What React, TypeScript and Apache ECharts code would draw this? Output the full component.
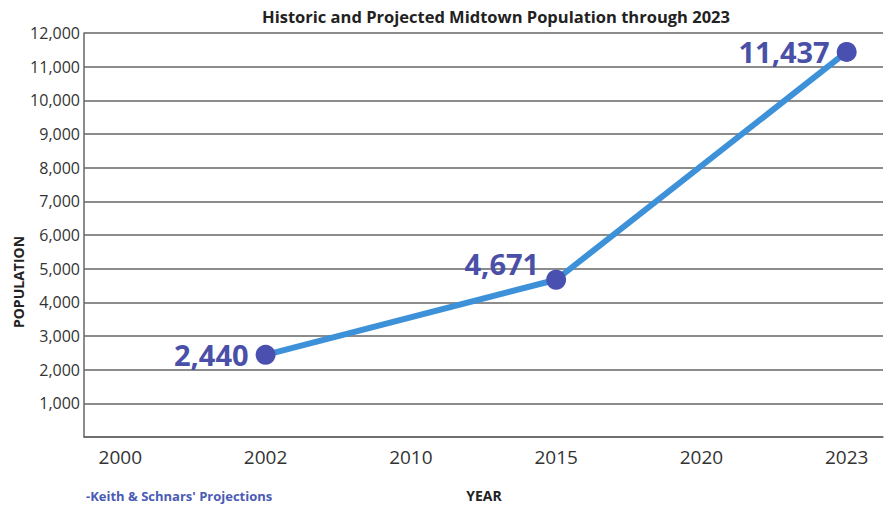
import React, { useEffect, useRef } from "react";
import * as echarts from "echarts";

const years = ["2000", "2002", "2010", "2015", "2020", "2023"];
const dataYears = ["2002", "2015", "2023"];
const population = [2440, 4671, 11437];

const FONT = "'Open Sans'";

export default function App() {
  const ref = useRef<HTMLDivElement>(null);
  useEffect(() => {
    if (!ref.current) return;
    const chart = echarts.init(ref.current, undefined, { renderer: "svg" });
    const data = population.map((v, i) => {
      const idx = years.indexOf(dataYears[i]);
      const item: any = { value: [idx, v] };
      if (i === 1) item.label = { offset: [0, -16] };
      return item;
    });
    chart.setOption({
      animation: false,
      backgroundColor: "#fff",
      textStyle: { fontFamily: FONT },
      title: {
        text: "Historic and Projected Midtown Population through 2023",
        left: 491,
        textAlign: "center",
        top: 3,
        textStyle: { fontFamily: FONT, fontWeight: "bold", fontSize: 16.5, color: "#222" },
      },
      grid: { left: 84, right: 3, top: 33, bottom: 71 },
      xAxis: {
        type: "value",
        min: -0.25,
        max: 5.25,
        axisLine: { show: true, onZero: false, lineStyle: { color: "#666", width: 1.5 } },
        axisTick: { show: false },
        splitLine: { show: false },
        axisLabel: {
          customValues: years.map((_, i) => i),
          formatter: (v: number) => years[Math.round(v)] ?? "",
          fontSize: 19,
          color: "#333",
          margin: 10,
          fontFamily: FONT,
        },
      },
      yAxis: {
        type: "value",
        min: 0,
        max: 12000,
        interval: 1000,
        axisLine: { show: true, onZero: false, lineStyle: { color: "#666", width: 1.5 } },
        axisTick: { show: false },
        splitLine: { show: true, lineStyle: { color: "#666", width: 1.5 } },
        axisLabel: {
          formatter: (v: number) => (v === 0 ? "" : v.toLocaleString("en-US")),
          fontSize: 16,
          color: "#333",
          margin: 4,
          fontFamily: FONT,
        },
      },
      series: [
        {
          type: "line",
          data,
          symbol: "circle",
          symbolSize: 20,
          lineStyle: { color: "#3d91d8", width: 6 },
          itemStyle: { color: "#4a50b0" },
          z: 3,
          label: {
            show: true,
            position: "left",
            distance: 7,
            formatter: (p: any) => p.value[1].toLocaleString("en-US"),
            fontFamily: FONT,
            fontWeight: "bold",
            fontSize: 29,
            color: "#4a4fa8",
          },
        },
      ],
      graphic: [
        {
          type: "text",
          x: 18,
          y: 282,
          rotation: Math.PI / 2,
          style: {
            text: "POPULATION",
            fontFamily: FONT,
            fontWeight: "bold",
            fontSize: 14,
            fill: "#222",
            align: "center",
            verticalAlign: "middle",
          },
        },
        {
          type: "text",
          x: 484,
          y: 495,
          style: {
            text: "YEAR",
            fontFamily: FONT,
            fontWeight: "bold",
            fontSize: 14,
            fill: "#222",
            align: "center",
            verticalAlign: "middle",
          },
        },
        {
          type: "text",
          x: 86,
          y: 496,
          style: {
            text: "-Keith & Schnars' Projections",
            fontFamily: FONT,
            fontWeight: "bold",
            fontSize: 13,
            fill: "#4a5ab5",
            align: "left",
            verticalAlign: "middle",
          },
        },
      ],
    });
    return () => chart.dispose();
  }, []);
  return <div ref={ref} style={{ width: 886, height: 508, position: "absolute", left: 0, top: 0 }} />;
}
